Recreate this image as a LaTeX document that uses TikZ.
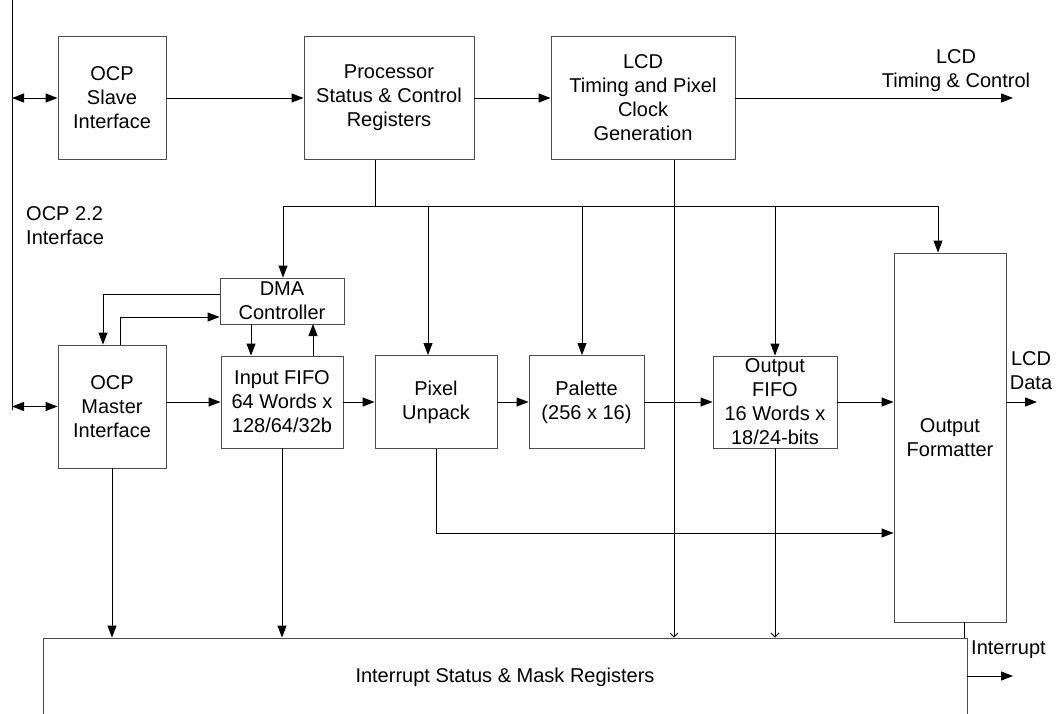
\documentclass[tikz,border=0pt]{standalone}
\usepackage{fontspec}
\setmainfont{Liberation Sans}
\usetikzlibrary{arrows.meta}

\begin{document}
\begin{tikzpicture}[x=1pt,y=-1pt,
  txt/.style={inner sep=0pt, align=center, font=\fontsize{20}{24}\selectfont},
  box/.style={txt, draw=black!70, line width=0.9pt},
  wire/.style={line width=0.9pt},
  arr/.style={wire, -{Triangle[length=12pt,width=9pt]}},
  darr/.style={wire, {Triangle[length=12pt,width=9pt]}-{Triangle[length=12pt,width=9pt]}},
  varr/.style={wire, -{Straight Barb[length=4pt,width=8pt]}}]
\useasboundingbox (0,0) rectangle (1059,714);
% ocp bus
\coordinate (bustop) at (12,0);
\coordinate (busbot) at (12,410);
\draw[wire] (bustop) -- (busbot);
\node[txt, align=left, anchor=west] (ocplbl) at (26,226){OCP 2.2\\Interface};
% top row
\node[box, minimum width=108pt, minimum height=123pt] (slave) at (112,98){OCP\\Slave\\Interface};
\node[box, minimum width=170pt, minimum height=123pt] (proc) at (389,98){Processor\\Status \& Control\\Registers};
\node[box, minimum width=184pt, minimum height=123pt] (lcd) at (643,98){LCD\\Timing and Pixel\\Clock\\Generation};
\coordinate (lcdout) at (1013,98);
\node[txt] (lcdlbl) at (956,71){LCD\\Timing \& Control};
\draw[darr](slave.west -| bustop) -- (slave.west);
\draw[arr](slave) -- (proc);
\draw[arr](proc) -- (lcd);
\draw[arr](lcd.east) -- (lcdout);
% middle row
\node[box, minimum width=124pt, minimum height=46pt] (dma) at (282,301){DMA\\Controller};
\node[box, minimum width=108pt, minimum height=123pt] (master) at (112,406.5){OCP\\Master\\Interface};
\node[box, minimum width=122pt, minimum height=92pt] (infifo) at (282,402){Input FIFO\\64 Words x\\128/64/32b};
\node[box, minimum width=122pt, minimum height=93pt] (unpack) at (436,402){Pixel\\Unpack};
\node[box, minimum width=115pt, minimum height=93pt] (palette) at (586.5,402){Palette\\(256 x 16)};
\node[box, minimum width=124pt, minimum height=92pt] (outfifo) at (775,402){Output\\FIFO\\16 Words x\\18/24-bits};
\node[box, minimum width=112pt, minimum height=369pt] (fmt) at (950,437.5){Output\\Formatter};
\coordinate (dataout) at (1037,402);
\node[txt] (datalbl) at (1031,371){LCD\\Data};
\draw[darr](master.west -| bustop) -- (master.west);
\draw[arr](master.east |- infifo) -- (infifo);
\draw[arr](infifo) -- (unpack);
\draw[arr](unpack) -- (palette);
\draw[arr](palette) -- (outfifo);
\draw[arr](outfifo) -- (fmt.west |- outfifo);
\draw[arr](fmt.east |- dataout) -- (dataout);
% dma links
\coordinate (dm1) at (103,294);
\coordinate (dm2) at (120,317);
\coordinate (df1) at (251,324);
\coordinate (df2) at (313,324);
\draw[arr](dma.west |- dm1) -- (dm1) -- (master.north -| dm1);
\draw[arr](master.north -| dm2) -- (dm2) -- (dma.west |- dm2);
\draw[arr](df1) -- (infifo.north -| df1);
\draw[arr](infifo.north -| df2) -- (df2);
% control bus
\coordinate (bj) at (375,206);
\coordinate (bl) at (283,206);
\coordinate (bu) at (428,206);
\coordinate (bp) at (582,206);
\coordinate (bo) at (775,206);
\coordinate (br) at (938,206);
\draw[wire](proc.south -| bj) -- (bj);
\draw[wire](bl) -- (br);
\draw[arr](bl) -- (dma.north -| bl);
\draw[arr](bu) -- (unpack.north -| bu);
\draw[arr](bp) -- (palette.north -| bp);
\draw[arr](bo) -- (outfifo.north);
\draw[arr](br) -- (fmt.north -| br);
% bypass
\coordinate (ub) at (436,533);
\draw[arr](unpack.south) -- (ub) -- (fmt.west |- ub);
% interrupt
\node[txt, draw=black!70, line width=0.9pt, minimum width=924pt, minimum height=78pt] (intr) at (505,677){Interrupt Status \& Mask Registers};
\coordinate (lx) at (674,0);
\coordinate (fx) at (964,0);
\coordinate (irqout) at (1013,676);
\node[txt, anchor=west] (irqlbl) at (971,650){Interrupt};
\draw[arr](master.south) -- (intr.north -| master.south);
\draw[arr](infifo.south) -- (intr.north -| infifo.south);
\draw[varr](lcd.south -| lx) -- (intr.north -| lx);
\draw[varr](outfifo.south) -- (intr.north -| outfifo.south);
\draw[wire](fmt.south -| fx) -- (intr.north -| fx);
\draw[arr](intr.east |- irqout) -- (irqout);
\end{tikzpicture}
\end{document}
